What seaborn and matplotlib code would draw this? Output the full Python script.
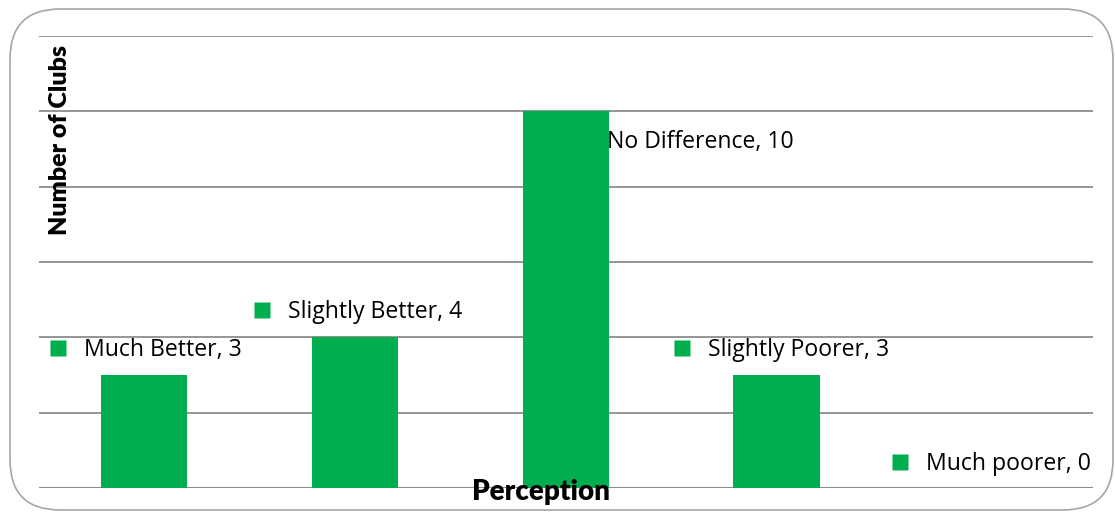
import matplotlib
matplotlib.use("Agg")
import matplotlib.pyplot as plt
import matplotlib.transforms as mtransforms
from matplotlib.patches import FancyBboxPatch
import seaborn as sns
import pandas as pd

# Survey results: perceived change per club
categories = ["Much Better", "Slightly Better", "No Difference", "Slightly Poorer", "Much poorer"]
counts = [3, 4, 10, 3, 0]
y_ticks = [0, 2, 4, 6, 8, 10, 12]

# label placement relative to each bar's top centre, in pixels (dx, dy)
label_offsets = [(-86, 27), (-93, 27), (15, -29), (-95, 27), (-88, 26)]

GREEN = "#00AE4F"
GRID = "#8C8C8C"

sns.set_theme(style="white")
plt.rcParams["font.family"] = ["Open Sans", "DejaVu Sans"]

W, H = 1115, 512
fig = plt.figure(figsize=(W / 100, H / 100), dpi=100)
ax = fig.add_axes([38.5 / W, 1 - 488 / H, (1093 - 38.5) / W, (488 - 36) / H])

df = pd.DataFrame({"Perception": categories, "Clubs": counts})
sns.barplot(data=df, x="Perception", y="Clubs", color=GREEN, saturation=1,
            width=0.41, linewidth=0, ax=ax, zorder=3)

ax.set_xlim(-0.5, len(categories) - 0.5)
ax.set_ylim(y_ticks[0], y_ticks[-1])
for t in y_ticks:
    ax.axhline(t, color=GRID, lw=2.2 if t == 0 else 1.3, zorder=1)
ax.set_xticks([])
ax.set_yticks([])
for s in ax.spines.values():
    s.set_visible(False)
ax.set_xlabel("")
ax.set_ylabel("")

# data labels with a legend key square
for i, (cat, val) in enumerate(zip(categories, counts)):
    dx, dy = label_offsets[i]
    tr = mtransforms.offset_copy(ax.transData, fig=fig, x=dx, y=dy, units="dots")
    ax.plot([i], [val], marker="s", markersize=11.5, color=GREEN, mec="none",
            transform=tr, zorder=2, clip_on=False)
    tr_txt = mtransforms.offset_copy(ax.transData, fig=fig, x=dx + 26, y=dy - 2, units="dots")
    ax.text(i, val, f"{cat}, {val}", transform=tr_txt, ha="left", va="center",
            fontsize=16.6, color="black", zorder=5, clip_on=False)

# axis titles
fig.text(60 / W, 1 - 140 / H, "Number of Clubs", rotation=90, ha="center", va="center",
         fontsize=18, fontweight="heavy", color="black", family=["Lato", "DejaVu Sans"])
fig.text(541 / W, 1 - 492 / H, "Perception", ha="center", va="center",
         fontsize=20, fontweight="heavy", color="black", family=["Lato", "DejaVu Sans"],
         zorder=10)

# rounded chart frame
frame = FancyBboxPatch((10 / W, 1 - 510 / H), (1113 - 10) / W, (510 - 9) / H,
                       boxstyle="round,pad=0,rounding_size=0.045",
                       transform=fig.transFigure, fill=False, ec="#A6A6A6", lw=1.2,
                       mutation_aspect=W / H)
fig.patches.append(frame)

fig.savefig("out.png", dpi=100)
